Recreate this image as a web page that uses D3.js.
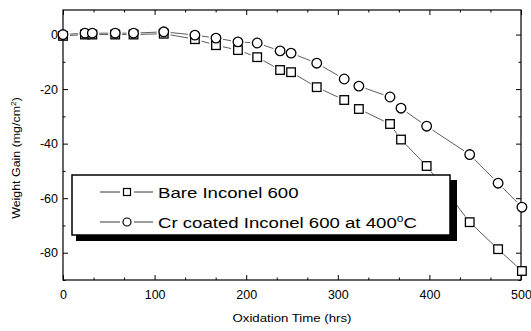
<!DOCTYPE html>
<html>
<head>
<meta charset="utf-8">
<script src="https://cdn.jsdelivr.net/npm/d3@7"></script>
<style>
  html, body { margin: 0; padding: 0; background: #fff; }
  svg { display: block; font-family: Arial, "Liberation Sans", Helvetica, sans-serif; }
</style>
</head>
<body>
<svg id="chart" width="531" height="331"></svg>
<script>
// ---- data ----
const times = [0, 24, 32, 57, 77, 110, 144, 167, 191, 212, 237, 249, 277, 307, 323, 357, 369, 397, 444, 475, 501];
const bareGain = [-0.5, 0, 0, 0, 0, 0.3, -1.7, -3.9, -5.7, -8.3, -13, -13.8, -19.3, -24, -27.3, -32.8, -38.5, -48.2, -68.8, -78.7, -86.7];
const crGain = [0, 0.5, 0.5, 0.5, 0.5, 1, -0.2, -1.3, -2.7, -3.1, -6, -6.8, -10.5, -16.3, -18.9, -22.9, -27, -33.6, -44, -54.5, -63.3];
const seriesNames = ["Bare Inconel 600", "Cr coated Inconel 600 at 400"];
const xTicks = [0, 100, 200, 300, 400, 500];
const yTicks = [0, -20, -40, -60, -80];
const xLabel = "Oxidation Time (hrs)";
const yLabel = "Weight Gain (mg/cm";

// ---- layout ----
const svg = d3.select("#chart");
const L = 63, R = 521, T = 10, B = 280;
const x = d3.scaleLinear().domain([0, 500]).range([L, R]);
const y = d3.scaleLinear().domain([-90, 9]).range([B, T]);

const xMinor = d3.range(0, 500.01, 100 / 3).filter(v => xTicks.every(t => Math.abs(t - v) > 1));
const yMinor = d3.range(-90, 9, 10).filter(v => !yTicks.includes(v));

function styleAxis(g) {
  g.select(".domain").remove();
  g.selectAll("line").attr("stroke", "#000").attr("stroke-width", 1);
  g.selectAll("text").attr("fill", "#000").style("font-size", "12.5px").style("font-family", "Arial, 'Liberation Sans', sans-serif");
}

// bottom
svg.append("g").attr("transform", `translate(0,${B})`)
  .call(d3.axisBottom(x).tickValues(xTicks).tickSize(-5).tickPadding(10).tickFormat(d3.format("d")))
  .call(styleAxis);
svg.append("g").attr("transform", `translate(0,${B})`)
  .call(d3.axisBottom(x).tickValues(xMinor).tickSize(-2.5).tickFormat(""))
  .call(styleAxis);
// top
svg.append("g").attr("transform", `translate(0,${T})`)
  .call(d3.axisTop(x).tickValues(xTicks).tickSize(-5).tickFormat(""))
  .call(styleAxis);
svg.append("g").attr("transform", `translate(0,${T})`)
  .call(d3.axisTop(x).tickValues(xMinor).tickSize(-2.5).tickFormat(""))
  .call(styleAxis);
// left
svg.append("g").attr("transform", `translate(${L},0)`)
  .call(d3.axisLeft(y).tickValues(yTicks).tickSize(-5).tickPadding(5).tickFormat(d => d === 0 ? "0" : "-" + Math.abs(d)))
  .call(styleAxis);
svg.append("g").attr("transform", `translate(${L},0)`)
  .call(d3.axisLeft(y).tickValues(yMinor).tickSize(-2.5).tickFormat(""))
  .call(styleAxis);
// right
svg.append("g").attr("transform", `translate(${R},0)`)
  .call(d3.axisRight(y).tickValues(yTicks).tickSize(-5).tickFormat(""))
  .call(styleAxis);
svg.append("g").attr("transform", `translate(${R},0)`)
  .call(d3.axisRight(y).tickValues(yMinor).tickSize(-2.5).tickFormat(""))
  .call(styleAxis);

// frame
svg.append("rect").attr("x", L).attr("y", T).attr("width", R - L).attr("height", B - T)
  .attr("fill", "none").attr("stroke", "#000").attr("stroke-width", 1.2);

// ---- series ----
function drawSeries(vals, shape) {
  const pts = times.map((t, i) => [x(t), y(vals[i])]);
  const gap = 7;
  const g = svg.append("g");
  for (let i = 0; i < pts.length - 1; i++) {
    const [x1, y1] = pts[i], [x2, y2] = pts[i + 1];
    const dx = x2 - x1, dy = y2 - y1, len = Math.hypot(dx, dy);
    if (len < 2 * gap + 4) continue;
    const ux = dx / len, uy = dy / len;
    g.append("line")
      .attr("x1", x1 + ux * gap).attr("y1", y1 + uy * gap)
      .attr("x2", x2 - ux * gap).attr("y2", y2 - uy * gap)
      .attr("stroke", "#333").attr("stroke-width", 0.8);
  }
  if (shape === "square") {
    g.selectAll("rect.pt").data(pts).enter().append("rect")
      .attr("x", d => d[0] - 4.3).attr("y", d => d[1] - 4.3)
      .attr("width", 8.6).attr("height", 8.6)
      .attr("fill", "#fff").attr("stroke", "#000").attr("stroke-width", 1.3);
  } else {
    g.selectAll("circle.pt").data(pts).enter().append("circle")
      .attr("cx", d => d[0]).attr("cy", d => d[1]).attr("r", 4.8)
      .attr("fill", "#fff").attr("stroke", "#000").attr("stroke-width", 1.3);
  }
}
drawSeries(bareGain, "square");
drawSeries(crGain, "circle");

// ---- legend ----
const lg = svg.append("g");
lg.append("rect").attr("x", 76).attr("y", 180).attr("width", 381).attr("height", 61).attr("fill", "#000");
lg.append("rect").attr("x", 72).attr("y", 175).attr("width", 378).attr("height", 60)
  .attr("fill", "#fff").attr("stroke", "#000").attr("stroke-width", 1.5);

const rows = [192, 222];
rows.forEach((ry, i) => {
  lg.append("line").attr("x1", 100).attr("x2", 120).attr("y1", ry).attr("y2", ry).attr("stroke", "#222").attr("stroke-width", 0.9);
  lg.append("line").attr("x1", 134).attr("x2", 153).attr("y1", ry).attr("y2", ry).attr("stroke", "#222").attr("stroke-width", 0.9);
  if (i === 0) {
    lg.append("rect").attr("x", 123.5).attr("y", ry - 3.5).attr("width", 7).attr("height", 7)
      .attr("fill", "#fff").attr("stroke", "#000").attr("stroke-width", 1.2);
  } else {
    lg.append("circle").attr("cx", 127).attr("cy", ry).attr("r", 4)
      .attr("fill", "#fff").attr("stroke", "#000").attr("stroke-width", 1.2);
  }
});

const stretch = 1.2;
const t1 = lg.append("text").attr("transform", `translate(158,${rows[0] + 5.5}) scale(${stretch},1)`)
  .style("font-size", "15.5px").attr("fill", "#000").text(seriesNames[0]);
const t2 = lg.append("text").attr("transform", `translate(158,${rows[1] + 5.5}) scale(${stretch},1)`)
  .style("font-size", "15.5px").attr("fill", "#000");
t2.append("tspan").text(seriesNames[1]);
t2.append("tspan").attr("dy", -6).style("font-size", "10px").text("o");
t2.append("tspan").attr("dy", 6).text("C");

// ---- axis titles ----
svg.append("text").attr("transform", `translate(292,322) scale(1.15,1)`)
  .attr("text-anchor", "middle").style("font-size", "11.5px").attr("fill", "#000").text(xLabel);

const yt = svg.append("text").attr("transform", `translate(20,158) rotate(-90) scale(1.13,1)`)
  .attr("text-anchor", "middle").style("font-size", "11px").attr("fill", "#000");
yt.append("tspan").text(yLabel);
yt.append("tspan").attr("dy", -4).style("font-size", "7.5px").text("2");
yt.append("tspan").attr("dy", 4).text(")");
</script>
</body>
</html>
